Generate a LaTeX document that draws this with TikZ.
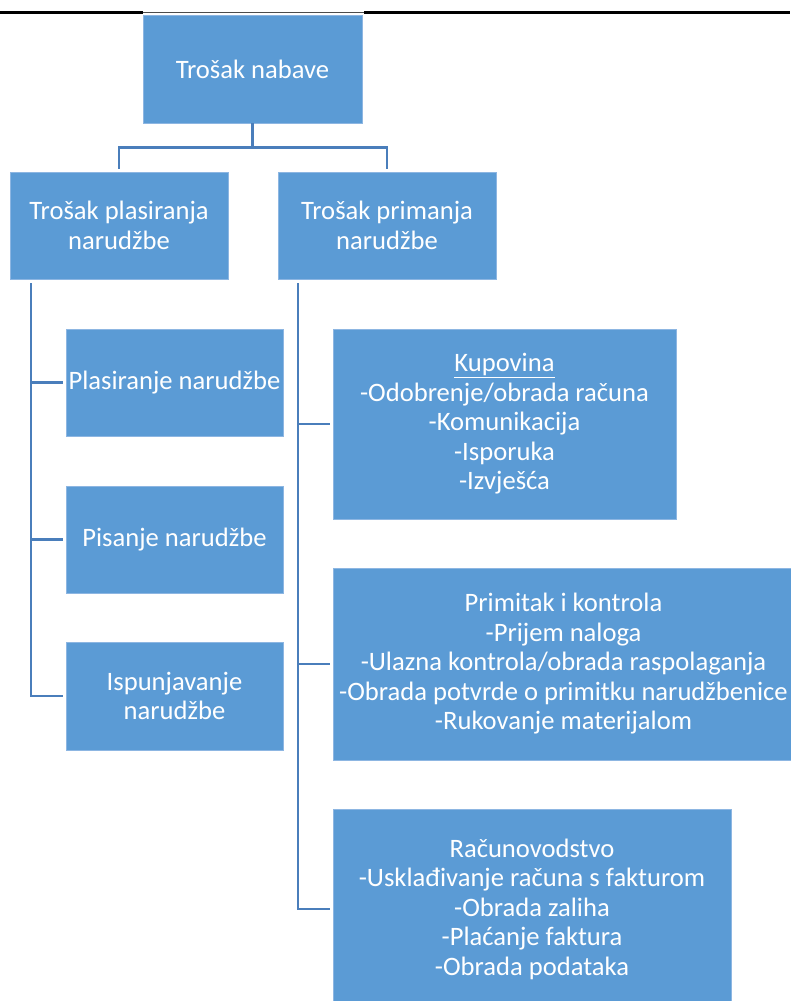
\documentclass[tikz,border=0pt]{standalone}
\usepackage{fontspec}
\setmainfont{Carlito}
\definecolor{boxfill}{HTML}{5B9BD5}
\definecolor{boxline}{HTML}{8DB6E2}
\definecolor{connblue}{HTML}{4A7EBB}
\begin{document}
\begin{tikzpicture}[x=1pt,y=-1pt,
  box/.style={rectangle, fill=boxfill, draw=boxline, line width=0.8pt, inner sep=0pt,
    align=center, text=white, font=\fontsize{26.6}{29.5}\selectfont},
  conn/.style={draw=connblue, line width=2.5pt}]
\useasboundingbox (0,0) rectangle (790,1001);
% top rule
\draw[black, line width=2.2pt] (0,12.5) -- (143,12.5);
\draw[black, line width=2.2pt] (364,12.5) -- (790,12.5);
\draw[black!70, line width=0.6pt] (143,12.5) -- (364,12.5);
% nodes
\node[box, minimum width=219pt, minimum height=108pt] (top) at (252.5,69) {Trošak nabave};
\node[box, minimum width=218pt, minimum height=107pt] (L) at (119,225.5) {Trošak plasiranja\\narudžbe};
\node[box, minimum width=218pt, minimum height=107pt] (R) at (387,225.5) {Trošak primanja\\narudžbe};
\node[box, minimum width=217pt, minimum height=107pt] (L1) at (174.5,382.5) {Plasiranje narudžbe};
\node[box, minimum width=217pt, minimum height=107pt] (L2) at (174.5,539.5) {Pisanje narudžbe};
\node[box, minimum width=217pt, minimum height=108pt] (L3) at (174.5,696) {Ispunjavanje\\narudžbe};
\node[box, minimum width=343pt, minimum height=190pt] (A) at (504.5,424) {\underline{Kupovina}\\-Odobrenje/obrada računa\\-Komunikacija\\-Isporuka\\-Izvješća};
\node[box, minimum width=461pt, minimum height=192pt] (B) at (563.5,664) {Primitak i kontrola\\-Prijem naloga\\-Ulazna kontrola/obrada raspolaganja\\-Obrada potvrde o primitku narudžbenice\\-Rukovanje materijalom};
\node[box, minimum width=398pt, minimum height=200pt] (C) at (532,909) {Računovodstvo\\-Usklađivanje računa s fakturom\\-Obrada zaliha\\-Plaćanje faktura\\-Obrada podataka};
% top connectors
\coordinate (tj) at ([yshift=-24pt]top.south);
\draw[conn] (top.south) -- (tj);
\draw[conn, shorten >=3pt] (tj) -| (L.north);
\draw[conn, shorten >=3pt] (tj) -| (R.north);
% left bus
\coordinate (lbus) at ([xshift=-88pt,yshift=-4pt]L.south);
\draw[conn, shorten >=3pt] (lbus) |- (L3.west);
\draw[conn, shorten >=3pt] (lbus |- L1.west) -- (L1.west);
\draw[conn, shorten >=3pt] (lbus |- L2.west) -- (L2.west);
% right bus
\coordinate (rbus) at ([xshift=-89pt,yshift=-4pt]R.south);
\draw[conn, shorten >=3pt] (rbus) |- (C.west);
\draw[conn, shorten >=3pt] (rbus |- A.west) -- (A.west);
\draw[conn, shorten >=3pt] (rbus |- B.west) -- (B.west);
\end{tikzpicture}
\end{document}
